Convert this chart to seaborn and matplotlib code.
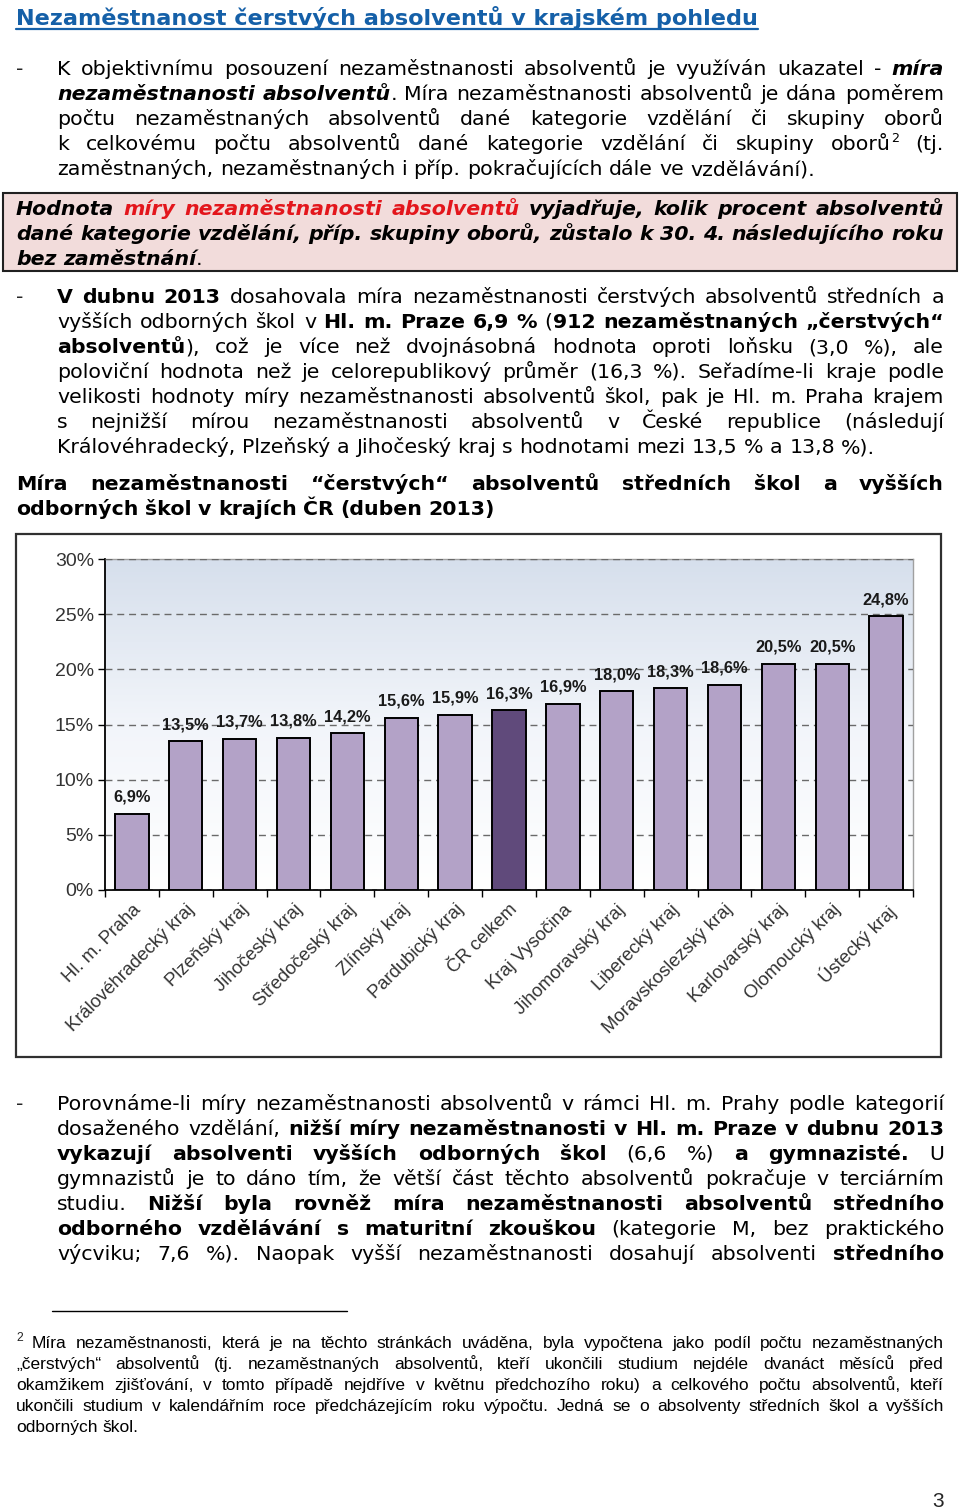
import numpy as np
import pandas as pd
import seaborn as sns
import matplotlib.pyplot as plt
from matplotlib.patches import Rectangle
from matplotlib.colors import LinearSegmentedColormap

# chart data
regions = ['Hl. m. Praha', 'Královéhradecký kraj', 'Plzeňský kraj', 'Jihočeský kraj',
           'Středočeský kraj', 'Zlínský kraj', 'Pardubický kraj', 'ČR celkem',
           'Kraj Vysočina', 'Jihomoravský kraj', 'Liberecký kraj', 'Moravskoslezský kraj',
           'Karlovarský kraj', 'Olomoucký kraj', 'Ústecký kraj']
rates = [6.9, 13.5, 13.7, 13.8, 14.2, 15.6, 15.9, 16.3, 16.9, 18.0, 18.3, 18.6, 20.5, 20.5, 24.8]
highlight = 'ČR celkem'
y_ticks = [0, 5, 10, 15, 20, 25, 30]
y_tick_labels = ['0%', '5%', '10%', '15%', '20%', '25%', '30%']

# page text
title = 'Nezaměstnanost čerstvých absolventů v krajském pohledu'
para1 = [
    ([('K objektivnímu posouzení nezaměstnanosti absolventů je využíván ukazatel - ', 'n'), ('míra', 'bi')], True),
    ([('nezaměstnanosti absolventů', 'bi'), ('. Míra nezaměstnanosti absolventů je dána poměrem', 'n')], True),
    ([('počtu nezaměstnaných absolventů dané kategorie vzdělání či skupiny oborů', 'n')], True),
    ([('k celkovému počtu absolventů dané kategorie vzdělání či skupiny oborů', 'n'), ('2', 'sup'), (' (tj.', 'n')], True),
    ([('zaměstnaných, nezaměstnaných i příp. pokračujících dále ve vzdělávání).', 'n')], False),
]
box_lines = [
    ([('Hodnota ', 'bi'), ('míry nezaměstnanosti absolventů', 'r'), (' vyjadřuje, kolik procent absolventů', 'bi')], True),
    ([('dané kategorie vzdělání, příp. skupiny oborů, zůstalo k 30. 4. následujícího roku', 'bi')], True),
    ([('bez zaměstnání', 'bi'), ('.', 'n')], False),
]
para2 = [
    ([('V dubnu 2013', 'b'), (' dosahovala míra nezaměstnanosti čerstvých absolventů středních a', 'n')], True),
    ([('vyšších odborných škol v ', 'n'), ('Hl. m. Praze 6,9 %', 'b'), (' (', 'n'), ('912 nezaměstnaných „čerstvých“', 'b')], True),
    ([('absolventů', 'b'), ('), což je více než dvojnásobná hodnota oproti loňsku (3,0 %), ale', 'n')], True),
    ([('poloviční hodnota než je celorepublikový průměr (16,3 %). Seřadíme-li kraje podle', 'n')], True),
    ([('velikosti hodnoty míry nezaměstnanosti absolventů škol, pak je Hl. m. Praha krajem', 'n')], True),
    ([('s nejnižší mírou nezaměstnanosti absolventů v České republice (následují', 'n')], True),
    ([('Královéhradecký, Plzeňský a Jihočeský kraj s hodnotami mezi 13,5 % a 13,8 %).', 'n')], False),
]
heading = [
    ([('Míra nezaměstnanosti “čerstvých“ absolventů středních škol a vyšších', 'b')], True),
    ([('odborných škol v krajích ČR (duben 2013)', 'b')], False),
]
para3 = [
    ([('Porovnáme-li míry nezaměstnanosti absolventů v rámci Hl. m. Prahy podle kategorií', 'n')], True),
    ([('dosaženého vzdělání, ', 'n'), ('nižší míry nezaměstnanosti v Hl. m. Praze v dubnu 2013', 'b')], True),
    ([('vykazují absolventi vyšších odborných škol', 'b'), (' (6,6 %) ', 'n'), ('a gymnazisté.', 'b'), (' U', 'n')], True),
    ([('gymnazistů je to dáno tím, že větší část těchto absolventů pokračuje v terciárním', 'n')], True),
    ([('studiu. ', 'n'), ('Nižší byla rovněž míra nezaměstnanosti absolventů středního', 'b')], True),
    ([('odborného vzdělávání s maturitní zkouškou', 'b'), (' (kategorie M, bez praktického', 'n')], True),
    ([('výcviku; 7,6 %). Naopak vyšší nezaměstnanosti dosahují absolventi ', 'n'), ('středního', 'b')], True),
]
footnote = [
    ([('Míra nezaměstnanosti, která je na těchto stránkách uváděna, byla vypočtena jako podíl počtu nezaměstnaných', 'n')], True),
    ([('„čerstvých“ absolventů (tj. nezaměstnaných absolventů, kteří ukončili studium nejdéle dvanáct měsíců před', 'n')], True),
    ([('okamžikem zjišťování, v tomto případě nejdříve v květnu předchozího roku) a celkového počtu absolventů, kteří', 'n')], True),
    ([('ukončili studium v kalendářním roce předcházejícím roku výpočtu. Jedná se o absolventy středních škol a vyšších', 'n')], True),
    ([('odborných škol.', 'n')], False),
]

W, H = 960, 1511
sns.set_style('white')
plt.rcParams['font.family'] = ['DejaVu Sans']

fig = plt.figure(figsize=(W / 100, H / 100), dpi=100)
page = fig.add_axes([0, 0, 1, 1])
page.set_xlim(0, W)
page.set_ylim(H, 0)
page.axis('off')
renderer = fig.canvas.get_renderer()

SERIF = 'DejaVu Sans'
ARIAL = 'Liberation Sans'


def props(key, family, size):
    d = dict(family=family, fontsize=size, color='black', weight='normal', style='normal')
    if key in ('b', 'bi', 'r'):
        d['weight'] = 'bold'
    if key in ('bi', 'r'):
        d['style'] = 'italic'
    if key == 'r':
        d['color'] = '#e3161c'
    if key == 'sup':
        d['fontsize'] = size * 0.62
    return d


def width(s, **kw):
    t = page.text(0, 0, s, **kw)
    w = t.get_window_extent(renderer).width
    t.remove()
    return w


def draw_line(runs, y, x0, x1, family, size, justify):
    words = [[]]
    for txt, key in runs:
        for i, part in enumerate(txt.split(' ')):
            if i > 0:
                words.append([])
            if part:
                words[-1].append((part, key))
    words = [w for w in words if w]
    widths = [[width(p, **props(k, family, size)) for p, k in w] for w in words]
    total = sum(sum(ws) for ws in widths)
    pr = props('n', family, size)
    space = width('a a', **pr) - width('aa', **pr)
    if justify and len(words) > 1:
        gap = max((x1 - x0 - total) / (len(words) - 1), space * 0.6)
    else:
        gap = space
    x = x0
    for w, ws in zip(words, widths):
        for (p, k), wd in zip(w, ws):
            dy = -size * 0.55 if k == 'sup' else 0
            page.text(x, y + dy, p, ha='left', va='baseline', **props(k, family, size))
            x += wd
        x += gap


def draw_block(lines, y0, step, x0, x1, family, size):
    for i, (runs, just) in enumerate(lines):
        draw_line(runs, y0 + i * step, x0, x1, family, size, just)


# font sizes fitted to the page measure
body = 10 * 758 / width('zaměstnaných, nezaměstnaných i příp. pokračujících dále ve vzdělávání).',
                        family=SERIF, fontsize=10)
tsize = 10 * 744 / width(title, family=SERIF, fontsize=10, weight='bold')

# title
page.text(16, 25, title, family=SERIF, fontsize=tsize, weight='bold', color='#1560a8',
          ha='left', va='baseline')
tw = width(title, family=SERIF, fontsize=tsize, weight='bold')
page.plot([16, 16 + tw], [28.5, 28.5], color='#1560a8', lw=1.6)

# paragraph 1
page.text(16, 75, '-', family=SERIF, fontsize=body, va='baseline')
draw_block(para1, 75, 25, 57, 944, SERIF, body)

# highlighted box
page.add_patch(Rectangle((3, 193), 954, 78, facecolor='#f2dcdb', edgecolor='#202020', lw=1.5))
draw_block(box_lines, 215, 25, 16, 944, SERIF, body)

# paragraph 2
page.text(16, 303, '-', family=SERIF, fontsize=body, va='baseline')
draw_block(para2, 303, 25, 57, 944, SERIF, body)

# chart heading
draw_block(heading, 490, 25, 16, 944, SERIF, body)

# paragraph 3
page.text(16, 1110, '-', family=SERIF, fontsize=body, va='baseline')
draw_block(para3, 1110, 25, 57, 944, SERIF, body)

# footnote
page.plot([52, 347], [1311, 1311], color='black', lw=1)
fsize = 12.5
page.text(16, 1341, '2', family=ARIAL, fontsize=fsize * 0.7, va='baseline')
draw_line(footnote[0][0], 1348, 32, 944, ARIAL, fsize, True)
draw_block(footnote[1:], 1369, 21, 16, 944, ARIAL, fsize)

# page number
page.text(944, 1507, '3', family=ARIAL, fontsize=15, ha='right', va='baseline')

# chart frame
page.add_patch(Rectangle((16, 534), 925, 523, fill=False, edgecolor='#303030', lw=1.6))

# chart
ax = fig.add_axes([105 / W, 1 - 890 / H, (913 - 105) / W, (890 - 559) / H])
df = pd.DataFrame({'region': regions, 'rate': rates})
colors = ['#604a7b' if r == highlight else '#b3a2c7' for r in regions]
sns.barplot(data=df, x='region', y='rate', hue='region', palette=colors, legend=False,
            width=0.62, edgecolor='black', linewidth=1.4, saturation=1, ax=ax, zorder=3)

grad = np.linspace(0, 1, 256).reshape(-1, 1)
cmap = LinearSegmentedColormap.from_list('bg', ['#ffffff', '#f2f5fa', '#d6dfec'])
ax.imshow(grad, extent=[0, 1, 0, 1], transform=ax.transAxes, origin='lower',
          aspect='auto', cmap=cmap, zorder=0)

ax.set_xlim(-0.5, len(regions) - 0.5)
ax.set_ylim(0, 30)
ax.set_xlabel('')
ax.set_ylabel('')
ax.set_yticks(y_ticks)
ax.set_yticklabels(y_tick_labels)
ax.yaxis.grid(True, linestyle=(0, (5, 3.5)), color='#6a6a6a', lw=1)
ax.xaxis.grid(False)
ax.set_axisbelow(False)
for gl in ax.get_ygridlines():
    gl.set_zorder(1)

ax.set_xticks(np.arange(-0.5, len(regions), 1), minor=True)
ax.tick_params(axis='x', which='major', length=0, pad=8, bottom=True)
ax.tick_params(axis='x', which='minor', length=5, width=1, color='black', bottom=True)
ax.tick_params(axis='y', length=5, width=1, color='black', left=True, pad=3)

for lbl in ax.get_xticklabels():
    lbl.set_rotation(45)
    lbl.set_ha('right')
    lbl.set_rotation_mode('anchor')
    lbl.set_fontfamily(ARIAL)
    lbl.set_fontsize(13.3)
    lbl.set_color('#333333')
for lbl in ax.get_yticklabels():
    lbl.set_fontfamily(ARIAL)
    lbl.set_fontsize(14)
    lbl.set_color('#333333')

for s in ('left', 'bottom'):
    ax.spines[s].set_color('black')
    ax.spines[s].set_linewidth(1.3)
for s in ('top', 'right'):
    ax.spines[s].set_color('#a0a0a0')
    ax.spines[s].set_linewidth(1)

for i, v in enumerate(rates):
    ax.annotate(f'{v:.1f}%'.replace('.', ','), (i, v), xytext=(0, 6.5), textcoords='offset points',
                ha='center', va='bottom', family=ARIAL, fontsize=11.8, weight='bold',
                color='#1a1a1a', zorder=5)

fig.savefig('out.png', dpi=100)
